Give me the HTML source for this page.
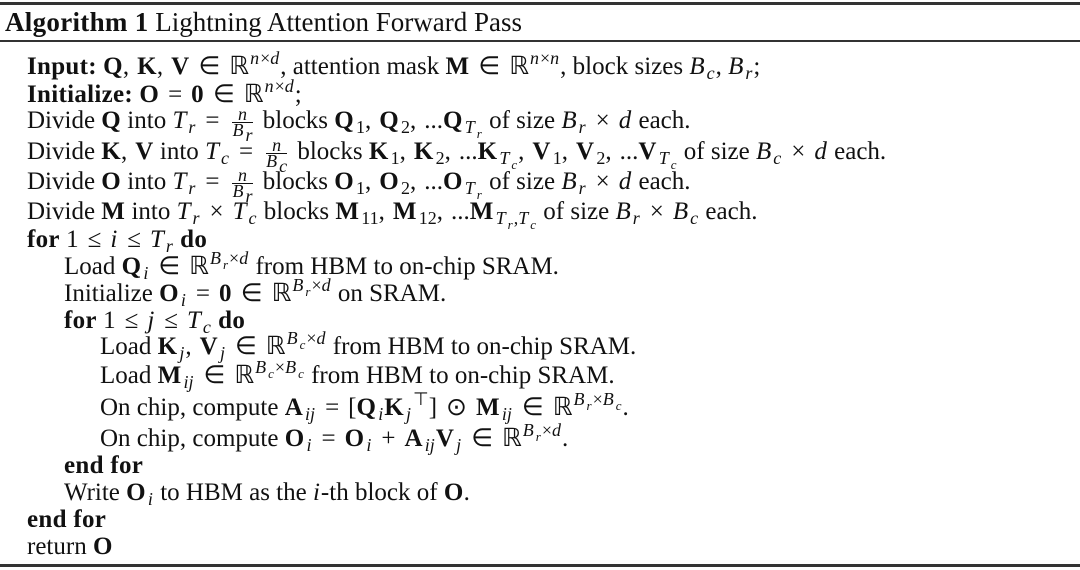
<!DOCTYPE html>
<html><head><meta charset="utf-8"><style>
body{margin:0;width:1080px;height:570px;background:#fff;position:relative;overflow:hidden;font-family:"Liberation Serif",serif;color:#111}
.l{position:absolute;white-space:nowrap;font-size:25px;line-height:26px}
.hr{position:absolute;left:0;width:1080px;background:#333}
i{font-style:italic;margin-right:1px}
b{letter-spacing:0.3px}
sup{font-size:18px;vertical-align:10px;line-height:0;margin-left:1px}
sub{font-size:18px;vertical-align:-5px;line-height:0;margin-left:2px}
sub sub,sup sub{font-size:13px}
.o{margin:0 9px}
.c{margin-right:8px}
.fr{display:inline-block;vertical-align:middle;text-align:center;font-size:18px;line-height:15px;font-style:italic;margin:0 4px}
.fr span{display:block;border-bottom:1px solid #111;padding:0 2px}
</style></head><body>
<div class="hr" style="top:2px;height:3px"></div>
<div class="hr" style="top:40px;height:2px"></div>
<div class="hr" style="top:564px;height:3px"></div>
<div class="l" style="left:5px;top:7px;font-size:27px;line-height:30px"><b>Algorithm 1</b> Lightning Attention Forward Pass</div>

<div class="l" style="left:27px;top:54px"><b>Input:</b> <b>Q</b><span class="c">,</span><b>K</b><span class="c">,</span><b>V</b><span class="o">∈</span>ℝ<sup><i>n</i>×<i>d</i></sup>, attention mask <b>M</b><span class="o">∈</span>ℝ<sup><i>n</i>×<i>n</i></sup>, block sizes <i>B<sub>c</sub></i>, <i>B<sub>r</sub></i>;</div>
<div class="l" style="left:27px;top:82px"><b>Initialize:</b> <b>O</b><span class="o">=</span><b>0</b><span class="o">∈</span>ℝ<sup><i>n</i>×<i>d</i></sup>;</div>
<div class="l" style="left:27px;top:107px">Divide <b>Q</b> into <i>T<sub>r</sub></i><span class="o">=</span><span class="fr"><span>n</span>B<sub>r</sub></span> blocks <b>Q</b><sub>1</sub><span class="c">,</span><b>Q</b><sub>2</sub><span class="c">,</span>...<b>Q</b><sub><i>T<sub>r</sub></i></sub> of size <i>B<sub>r</sub></i><span class="o">×</span><i>d</i> each.</div>
<div class="l" style="left:27px;top:138px">Divide <b>K</b><span class="c">,</span><b>V</b> into <i>T<sub>c</sub></i><span class="o">=</span><span class="fr"><span>n</span>B<sub>c</sub></span> blocks <b>K</b><sub>1</sub><span class="c">,</span><b>K</b><sub>2</sub><span class="c">,</span>...<b>K</b><sub><i>T<sub>c</sub></i></sub><span class="c">,</span><b>V</b><sub>1</sub><span class="c">,</span><b>V</b><sub>2</sub><span class="c">,</span>...<b>V</b><sub><i>T<sub>c</sub></i></sub> of size <i>B<sub>c</sub></i><span class="o">×</span><i>d</i> each.</div>
<div class="l" style="left:27px;top:168px">Divide <b>O</b> into <i>T<sub>r</sub></i><span class="o">=</span><span class="fr"><span>n</span>B<sub>r</sub></span> blocks <b>O</b><sub>1</sub><span class="c">,</span><b>O</b><sub>2</sub><span class="c">,</span>...<b>O</b><sub><i>T<sub>r</sub></i></sub> of size <i>B<sub>r</sub></i><span class="o">×</span><i>d</i> each.</div>
<div class="l" style="left:27px;top:199px">Divide <b>M</b> into <i>T<sub>r</sub></i><span class="o">×</span><i>T<sub>c</sub></i> blocks <b>M</b><sub>11</sub><span class="c">,</span><b>M</b><sub>12</sub><span class="c">,</span>...<b>M</b><sub><i>T<sub>r</sub></i>,<i>T<sub>c</sub></i></sub> of size <i>B<sub>r</sub></i><span class="o">×</span><i>B<sub>c</sub></i> each.</div>
<div class="l" style="left:27px;top:227px"><b>for</b> 1<span class="o">≤</span><i>i</i><span class="o">≤</span><i>T<sub>r</sub></i> <b>do</b></div>
<div class="l" style="left:64px;top:254px">Load <b>Q</b><sub><i>i</i></sub><span class="o">∈</span>ℝ<sup><i>B<sub>r</sub></i>×<i>d</i></sup> from HBM to on-chip SRAM.</div>
<div class="l" style="left:64px;top:281px">Initialize <b>O</b><sub><i>i</i></sub><span class="o">=</span><b>0</b><span class="o">∈</span>ℝ<sup><i>B<sub>r</sub></i>×<i>d</i></sup> on SRAM.</div>
<div class="l" style="left:64px;top:308px"><b>for</b> 1<span class="o">≤</span><i>j</i><span class="o">≤</span><i>T<sub>c</sub></i> <b>do</b></div>
<div class="l" style="left:100px;top:334px">Load <b>K</b><sub><i>j</i></sub><span class="c">,</span><b>V</b><sub><i>j</i></sub><span class="o">∈</span>ℝ<sup><i>B<sub>c</sub></i>×<i>d</i></sup> from HBM to on-chip SRAM.</div>
<div class="l" style="left:100px;top:363px">Load <b>M</b><sub><i>ij</i></sub><span class="o">∈</span>ℝ<sup><i>B<sub>c</sub></i>×<i>B<sub>c</sub></i></sup> from HBM to on-chip SRAM.</div>
<div class="l" style="left:100px;top:395px">On chip, compute <b>A</b><sub><i>ij</i></sub><span class="o">=</span>[<b>Q</b><sub><i>i</i></sub><b>K</b><sub><i>j</i></sub><sup>⊤</sup>]<span class="o">⊙</span><b>M</b><sub><i>ij</i></sub><span class="o">∈</span>ℝ<sup><i>B<sub>r</sub></i>×<i>B<sub>c</sub></i></sup>.</div>
<div class="l" style="left:100px;top:426px">On chip, compute <b>O</b><sub><i>i</i></sub><span class="o">=</span><b>O</b><sub><i>i</i></sub><span class="o">+</span><b>A</b><sub><i>ij</i></sub><b>V</b><sub><i>j</i></sub><span class="o">∈</span>ℝ<sup><i>B<sub>r</sub></i>×<i>d</i></sup>.</div>
<div class="l" style="left:64px;top:453px"><b>end for</b></div>
<div class="l" style="left:64px;top:480px">Write <b>O</b><sub><i>i</i></sub> to HBM as the <i>i</i>-th block of <b>O</b>.</div>
<div class="l" style="left:27px;top:507px"><b>end for</b></div>
<div class="l" style="left:27px;top:534px">return <b>O</b></div>
</body></html>
